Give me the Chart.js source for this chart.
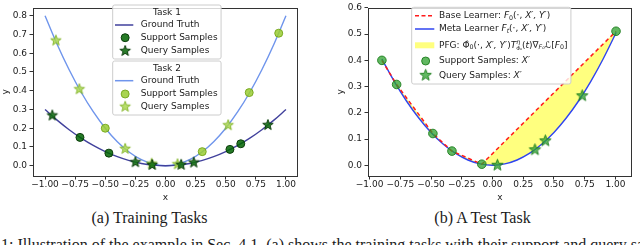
<!DOCTYPE html>
<html>
<head>
<meta charset="utf-8">
<script src="https://cdn.jsdelivr.net/npm/chart.js@4.4.1/dist/chart.umd.min.js"></script>
<style>
body { margin: 0; background: #fff; width: 640px; height: 245px; overflow: hidden; position: relative; }
canvas { position: absolute; top: 0; }
.cap { position: absolute; font-family: "Liberation Serif"; font-size: 16px; color: #1a1a1a; white-space: nowrap; line-height: 18px; }
</style>
</head>
<body>
<canvas id="left" width="320" height="205" style="left:0"></canvas>
<canvas id="right" width="320" height="205" style="left:320px"></canvas>
<div class="cap" style="left:149.5px;top:218px;transform:translate(-50%,-50%)">(a) Training Tasks</div>
<div class="cap" style="left:482.5px;top:218px;transform:translate(-50%,-50%)">(b) A Test Task</div>
<div class="cap" style="left:1px;top:235.5px">1: Illustration of the example in Sec. 4.1. (a) shows the training tasks with their support and query samples; (b) shows a test task</div>
<script>
// ---- data ----
let xTicks = [-1.0, -0.75, -0.5, -0.25, 0.0, 0.25, 0.5, 0.75, 1.0];
let yTicksLeft = [0.0, 0.1, 0.2, 0.3, 0.4, 0.5, 0.6, 0.7, 0.8];
let yTicksRight = [0.0, 0.1, 0.2, 0.3, 0.4, 0.5, 0.6];

// (a) ground truth curves, read every 0.1 in x
let curveX = [-1.0, -0.9, -0.8, -0.7, -0.6, -0.5, -0.4, -0.3, -0.2, -0.1, 0.0,
              0.1, 0.2, 0.3, 0.4, 0.5, 0.6, 0.7, 0.8, 0.9, 1.0];
let task1Truth = [0.30, 0.243, 0.192, 0.147, 0.108, 0.075, 0.048, 0.027, 0.012, 0.003, 0.0,
                  0.003, 0.012, 0.027, 0.048, 0.075, 0.108, 0.147, 0.192, 0.243, 0.30];
let task2Truth = [0.80, 0.648, 0.512, 0.392, 0.288, 0.20, 0.128, 0.072, 0.032, 0.008, 0.0,
                  0.008, 0.032, 0.072, 0.128, 0.20, 0.288, 0.392, 0.512, 0.648, 0.80];

let task1SupportX = [-0.71, -0.47, 0.535, 0.625];
let task1SupportY = [0.151, 0.067, 0.087, 0.117];
let task1QueryX = [-0.94, -0.25, -0.11, 0.13, 0.235, 0.85];
let task1QueryY = [0.268, 0.019, 0.004, 0.005, 0.017, 0.217];
let task2SupportX = [-0.50, 0.305, 0.695, 0.94];
let task2SupportY = [0.200, 0.075, 0.390, 0.707];
let task2QueryX = [-0.91, -0.715, -0.335, -0.115, 0.10, 0.52];
let task2QueryY = [0.668, 0.408, 0.090, 0.011, 0.008, 0.216];

// (b) test task
let testSupportX = [-0.90, -0.78, -0.485, -0.33, -0.087, 1.005];
let testSupportY = [0.400, 0.308, 0.121, 0.054, 0.004, 0.511];
let testQueryX = [0.04, 0.345, 0.43, 0.73];
let testQueryY = [0.000, 0.059, 0.093, 0.265];
let metaX = [-0.9, -0.8, -0.7, -0.6, -0.5, -0.4, -0.3, -0.2, -0.1, 0.0,
             0.1, 0.2, 0.3, 0.4, 0.5, 0.6, 0.7, 0.8, 0.9, 1.0, 1.005];
let metaY = [0.405, 0.320, 0.245, 0.180, 0.125, 0.080, 0.045, 0.020, 0.005, 0.0,
             0.005, 0.020, 0.045, 0.080, 0.125, 0.180, 0.245, 0.320, 0.405, 0.500, 0.507];
// base learner goes straight through the support samples
let baseX = testSupportX;
let baseY = testSupportY;

let taskLabels = ['Ground Truth', 'Support Samples', 'Query Samples'];
let testLabels = [
  ['Base Learner: ', {t: 'F', i: 1}, {t: '0', sub: 1}, '(·, ', {t: 'X′, Y′', i: 1}, ')'],
  ['Meta Learner ', {t: 'F', i: 1}, {t: 't', sub: 1, i: 1}, '(·, ', {t: 'X′, Y′', i: 1}, ')'],
  ['PFG: ', 'Φ̂', {t: '0', sub: 1}, '(·, ', {t: 'X′, Y′', i: 1}, ')', {t: 'T', i: 1},
   {t: 'η', sup: 1, i: 1, under: 'Φ̂₀'}, '(', {t: 't', i: 1}, ')∇', {t: 'F₀', sub: 1, i: 1},
   {t: 'ℒ', i: 1}, '[', {t: 'F', i: 1}, {t: '0', sub: 1}, ']'],
  ['Support Samples: ', {t: 'X′', i: 1}],
  ['Query Samples: ', {t: 'X′', i: 1}]
];

const FONT = '"DejaVu Sans"';
const INK = '#1a1a1a';

function pts(xs, ys) {
  return xs.map((x, i) => ({x: x, y: ys[i]}));
}

function starImage(r, fill, stroke) {
  let c = document.createElement('canvas');
  let s = Math.ceil(r * 2 + 3);
  c.width = s; c.height = s;
  let g = c.getContext('2d');
  g.beginPath();
  for (let k = 0; k < 10; k++) {
    let a = -Math.PI / 2 + k * Math.PI / 5;
    let rr = k % 2 ? r * 0.42 : r;
    g.lineTo(s / 2 + rr * Math.cos(a), s / 2 + rr * Math.sin(a));
  }
  g.closePath();
  g.fillStyle = fill; g.fill();
  g.strokeStyle = stroke; g.lineWidth = 1; g.stroke();
  return c;
}

// draws (or just measures) a label made of plain / italic / sub / sup pieces
function rich(ctx, segs, x, y, size, draw) {
  if (typeof segs === 'string') segs = [segs];
  for (let s of segs) {
    if (typeof s === 'string') s = {t: s};
    let small = s.sub || s.sup;
    let fs = small ? size * 0.7 : size;
    ctx.font = (s.i ? 'italic ' : '') + fs + 'px ' + FONT;
    let dy = s.sub ? size * 0.28 : s.sup ? -size * 0.38 : 0;
    if (draw) ctx.fillText(s.t, x, y + dy);
    let w = ctx.measureText(s.t).width;
    if (s.under) {
      ctx.font = (size * 0.55) + 'px ' + FONT;
      if (draw) ctx.fillText(s.under, x, y + size * 0.42);
      w = Math.max(w, ctx.measureText(s.under).width);
    }
    x += w;
  }
  return x;
}

function boxLegend(groups) {
  return {
    id: 'boxLegend',
    afterDraw(chart) {
      let ctx = chart.ctx;
      ctx.save();
      for (let g of groups) {
        let maxW = 0;
        for (let it of g.items) maxW = Math.max(maxW, rich(ctx, it.label, 0, 0, 9, false));
        let right = g.textX + maxW + 3.5;
        ctx.beginPath();
        ctx.roundRect(g.x, g.y, right - g.x, g.h, 2);
        ctx.fillStyle = 'rgba(255,255,255,0.8)';
        ctx.fill();
        ctx.strokeStyle = '#cccccc';
        ctx.lineWidth = 1;
        ctx.stroke();
        ctx.textBaseline = 'middle';
        ctx.fillStyle = INK;
        if (g.title) {
          ctx.font = '9px ' + FONT;
          ctx.textAlign = 'center';
          ctx.fillText(g.title, (g.x + right) / 2, g.titleY);
        }
        ctx.textAlign = 'left';
        let cx = (g.hx0 + g.hx1) / 2 + 1;
        g.items.forEach((it, i) => {
          let y = g.rows[i];
          ctx.setLineDash(it.dash || []);
          if (it.kind === 'line') {
            ctx.beginPath();
            ctx.moveTo(g.hx0, y); ctx.lineTo(g.hx1, y);
            ctx.strokeStyle = it.color; ctx.lineWidth = 1.5; ctx.stroke();
          } else if (it.kind === 'rect') {
            ctx.fillStyle = it.color;
            ctx.fillRect(g.hx0, y - 3, g.hx1 - g.hx0, 6);
          } else if (it.kind === 'circle') {
            ctx.beginPath();
            ctx.arc(cx, y, 4, 0, Math.PI * 2);
            ctx.fillStyle = it.color; ctx.fill();
            ctx.strokeStyle = it.edge; ctx.lineWidth = 1; ctx.stroke();
          } else if (it.kind === 'star') {
            ctx.drawImage(it.img, cx - it.img.width / 2, y - it.img.height / 2);
          }
          ctx.setLineDash([]);
          ctx.fillStyle = INK;
          rich(ctx, it.label, g.textX, y, 9, true);
        });
      }
      ctx.restore();
    }
  };
}

const frame = {
  id: 'frame',
  afterDatasetsDraw(chart) {
    let a = chart.chartArea, ctx = chart.ctx;
    ctx.save();
    ctx.strokeStyle = '#333333';
    ctx.lineWidth = 1;
    ctx.strokeRect(Math.round(a.left) + 0.5, Math.round(a.top) + 0.5,
                   Math.round(a.right - a.left) - 1, Math.round(a.bottom - a.top));
    ctx.restore();
  }
};

function scales(xmin, xmax, ymin, ymax, yTicks) {
  let tickFont = {family: FONT, size: 9};
  let grid = {drawOnChartArea: false, drawTicks: true, tickLength: 3.5, color: '#333333'};
  return {
    x: {
      type: 'linear', min: xmin, max: xmax,
      afterBuildTicks: s => { s.ticks = xTicks.map(v => ({value: v})); },
      afterFit: s => { s.height = 29; },
      ticks: {font: tickFont, color: INK, padding: 0, maxRotation: 0, autoSkip: false,
              callback: v => (v < 0 ? '−' : '') + Math.abs(v).toFixed(2)},
      grid: grid, border: {display: false},
      title: {display: true, text: 'x', font: tickFont, color: INK, padding: {top: 0, bottom: 1.6}}
    },
    y: {
      type: 'linear', min: ymin, max: ymax,
      afterBuildTicks: s => { s.ticks = yTicks.map(v => ({value: v})); },
      afterFit: s => { s.width = 33; },
      ticks: {font: tickFont, color: INK, padding: 2.5, autoSkip: false,
              callback: v => v.toFixed(1)},
      grid: grid, border: {display: false},
      title: {display: true, text: 'y', font: tickFont, color: INK, padding: {top: 0, bottom: 0}}
    }
  };
}

// ---- (a) training tasks ----
let t1Color = '#41419c', t2Color = '#6f95ec';
let t1Fill = 'rgba(0,100,0,0.85)', t1Edge = '#0b3d0b';
let t2Fill = 'rgba(154,205,50,0.85)', t2Edge = 'rgba(115,165,25,0.9)';
let star1 = starImage(5.5, 'rgba(20,110,20,0.9)', '#0b3d0b');
let star2 = starImage(5.5, 'rgba(170,215,80,0.85)', 'rgba(130,180,40,0.9)');

new Chart(document.getElementById('left'), {
  type: 'line',
  data: {
    datasets: [
      {data: pts(task1QueryX, task1QueryY), showLine: false, pointStyle: star1},
      {data: pts(task1SupportX, task1SupportY), showLine: false, pointStyle: 'circle',
       pointRadius: 4, pointBackgroundColor: t1Fill, pointBorderColor: t1Edge, pointBorderWidth: 1},
      {data: pts(task2QueryX, task2QueryY), showLine: false, pointStyle: star2},
      {data: pts(task2SupportX, task2SupportY), showLine: false, pointStyle: 'circle',
       pointRadius: 4, pointBackgroundColor: t2Fill, pointBorderColor: t2Edge, pointBorderWidth: 1},
      {data: pts(curveX, task1Truth), borderColor: t1Color, borderWidth: 1.4, pointRadius: 0, tension: 0.35},
      {data: pts(curveX, task2Truth), borderColor: t2Color, borderWidth: 1.4, pointRadius: 0, tension: 0.35}
    ]
  },
  options: {
    responsive: false, animation: false, events: [],
    layout: {padding: {left: 0, top: 1, right: 22, bottom: 0}},
    plugins: {legend: {display: false}, tooltip: {enabled: false}},
    scales: scales(-1.1, 1.1, -0.055, 0.842, yTicksLeft)
  },
  plugins: [frame, boxLegend([
    {x: 112.7, y: 5, h: 54, title: 'Task 1', titleY: 12.5, rows: [25, 37.7, 51],
     hx0: 115, hx1: 133.3, textX: 140.7,
     items: [{kind: 'line', color: t1Color, label: taskLabels[0]},
             {kind: 'circle', color: t1Fill, edge: t1Edge, label: taskLabels[1]},
             {kind: 'star', img: star1, label: taskLabels[2]}]},
    {x: 112.7, y: 61, h: 54, title: 'Task 2', titleY: 68.7, rows: [80.7, 94, 106.7],
     hx0: 115, hx1: 133.3, textX: 140.7,
     items: [{kind: 'line', color: t2Color, label: taskLabels[0]},
             {kind: 'circle', color: t2Fill, edge: t2Edge, label: taskLabels[1]},
             {kind: 'star', img: star2, label: taskLabels[2]}]}
  ])]
});

// ---- (b) test task ----
let gFill = 'rgba(44,160,44,0.75)', gEdge = 'rgba(30,125,30,0.9)';
let star3 = starImage(6, 'rgba(44,160,44,0.75)', 'rgba(30,125,30,0.9)');
let baseColor = '#ff1a1a', metaColor = '#2f44f0', pfgColor = 'rgba(255,255,0,0.5)';

new Chart(document.getElementById('right'), {
  type: 'line',
  data: {
    datasets: [
      {data: pts(testSupportX, testSupportY), showLine: false, pointStyle: 'circle',
       pointRadius: 4.3, pointBackgroundColor: gFill, pointBorderColor: gEdge, pointBorderWidth: 1},
      {data: pts(testQueryX, testQueryY), showLine: false, pointStyle: star3},
      {data: pts(baseX, baseY), borderColor: baseColor, borderWidth: 1.5, borderDash: [4, 3],
       pointRadius: 0, tension: 0, fill: '+1', backgroundColor: pfgColor},
      {data: pts(metaX, metaY), borderColor: metaColor, borderWidth: 1.4, pointRadius: 0, tension: 0.35}
    ]
  },
  options: {
    responsive: false, animation: false, events: [],
    layout: {padding: {left: 15, top: 5, right: 8, bottom: 0}},
    plugins: {legend: {display: false}, tooltip: {enabled: false},
              filler: {drawTime: 'beforeDatasetsDraw'}},
    scales: scales(-1.013, 1.135, -0.041, 0.6, yTicksRight)
  },
  plugins: [frame, boxLegend([
    {x: 91.7, y: 7.3, h: 76.7, rows: [15.7, 29, 45.3, 61, 75.3],
     hx0: 95, hx1: 114.3, textX: 119,
     items: [{kind: 'line', color: baseColor, dash: [4, 2.5], label: testLabels[0]},
             {kind: 'line', color: metaColor, label: testLabels[1]},
             {kind: 'rect', color: pfgColor, label: testLabels[2]},
             {kind: 'circle', color: gFill, edge: gEdge, label: testLabels[3]},
             {kind: 'star', img: star3, label: testLabels[4]}]}
  ])]
});
</script>
</body>
</html>
